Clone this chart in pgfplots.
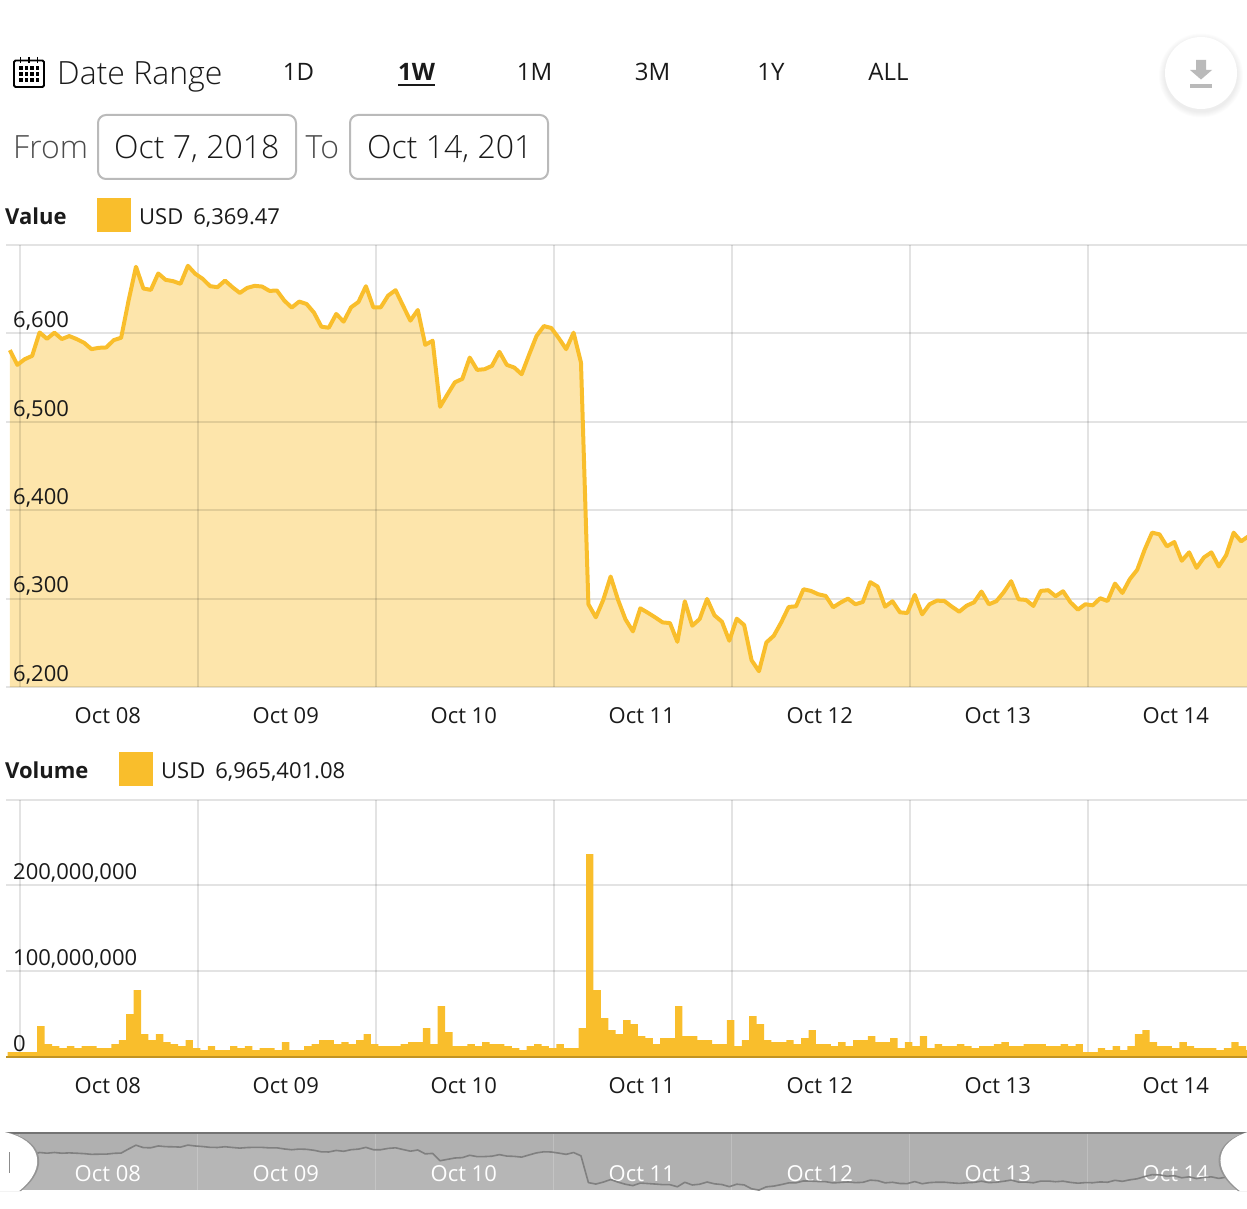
\documentclass[border=0pt]{standalone}
\usepackage{pgfplots}
\usepackage{pgfplotstable}
\pgfplotsset{compat=1.18}
\usepackage{fontspec}
\setmainfont{Open Sans}
\newfontfamily\lightfont{Open Sans Light}
\definecolor{gold}{HTML}{F9BE2C}
\definecolor{txt}{HTML}{1A1A1A}
\pgfplotstableread{
k v vol
0 6581.1 5.4
1 6564.4 5.4
2 6570.8 5.4
3 6574.6 5.4
4 6601.1 35.8
5 6593.9 14.8
6 6600.8 12.4
7 6593.6 10.1
8 6597 12.4
9 6593.6 10.1
10 6589.4 12.4
11 6582.2 12.4
12 6583.7 10.1
13 6584.1 10.1
14 6592.4 14.8
15 6595.1 19.5
16 6637.1 49.8
17 6675.4 77.8
18 6650.8 26.5
19 6649.2 19.5
20 6667.8 26.5
21 6660.6 17.1
22 6659.1 14.8
23 6656.1 12.4
24 6676.5 19.5
25 6667.4 10.1
26 6661.7 7.8
27 6653.4 12.4
28 6652.3 7.8
29 6659.8 7.8
30 6652.3 12.4
31 6645.8 10.1
32 6651.5 12.4
33 6653.8 7.8
34 6653 10.1
35 6648.1 10.1
36 6648.5 7.8
37 6637.1 17.1
38 6629.2 7.8
39 6636 7.8
40 6633.3 12.4
41 6623.5 14.8
42 6607.6 19.5
43 6606.4 19.5
44 6622 14.8
45 6613.3 17.1
46 6629.5 14.8
47 6635.6 19.5
48 6653.4 26.5
49 6629.5 14.8
50 6629.5 12.4
51 6642.8 12.4
52 6648.9 12.4
53 6631.4 14.8
54 6614.4 17.1
55 6626.5 17.1
56 6587.1 33.5
57 6591.7 14.8
58 6517 59.1
59 6531.1 28.8
60 6544.7 12.4
61 6548.5 12.4
62 6572.7 14.8
63 6558.7 12.4
64 6559.5 17.1
65 6563.3 14.8
66 6579.2 14.8
67 6564.4 12.4
68 6561.4 10.1
69 6553.8 7.8
70 6575.8 12.4
71 6597 14.8
72 6608.3 12.4
73 6606.1 10.1
74 6594.7 14.8
75 6582.2 10.1
76 6600.8 10.1
77 6567 33.5
78 6293.6 236.5
79 6278.8 77.8
80 6298.5 45.1
81 6325 31.1
82 6298.5 26.5
83 6276.5 42.8
84 6262.9 38.1
85 6289 24.1
86 6284.1 21.8
87 6278.8 14.8
88 6273.1 21.8
89 6272.3 21.8
90 6251.1 59.1
91 6297 24.1
92 6269.3 24.1
93 6276.9 19.5
94 6299.6 19.5
95 6281.1 14.8
96 6273.9 14.8
97 6252.3 42.8
98 6277.3 12.4
99 6270.1 19.5
100 6230.3 47.5
101 6217.8 38.1
102 6250.4 19.5
103 6258 17.1
104 6273.1 17.1
105 6290.5 19.5
106 6291.3 14.8
107 6310.6 21.8
108 6308.7 31.1
109 6304.9 14.8
110 6303 14.8
111 6290.2 12.4
112 6295.5 17.1
113 6300 12.4
114 6293.6 19.5
115 6296.2 19.5
116 6318.6 24.1
117 6313.6 17.1
118 6290.9 17.1
119 6297 21.8
120 6284.5 10.1
121 6283.7 17.1
122 6304.2 12.4
123 6282.2 24.1
124 6293.6 10.1
125 6297.7 14.8
126 6297.3 12.4
127 6290.9 12.4
128 6285.2 14.8
129 6292 12.4
130 6295.8 10.1
131 6308 12.4
132 6293.6 12.4
133 6297 14.8
134 6307.2 17.1
135 6319.7 12.4
136 6299.2 12.4
137 6298.5 14.8
138 6291.7 14.8
139 6308.7 14.8
140 6309.5 12.4
141 6302.7 12.4
142 6308.3 14.8
143 6295.8 12.4
144 6287.5 14.8
145 6293.6 5.4
146 6292.4 5.4
147 6300.4 10.1
148 6297.3 7.8
149 6317 12.4
150 6306.4 7.8
151 6322 12.4
152 6332.6 26.5
153 6355.3 31.1
154 6374.6 17.1
155 6372.7 12.4
156 6359.1 12.4
157 6364 10.1
158 6342.8 17.1
159 6352.3 12.4
160 6334.8 10.1
161 6346.6 10.1
162 6352.3 10.1
163 6336.4 7.8
164 6349.2 10.1
165 6374.6 17.1
166 6364.8 12.4
167 6370.5 7.8
}\datatable
\newcommand{\fs}[1]{\fontsize{#1}{#1}\selectfont}
\tikzset{
  gridv/.style={draw=black,opacity=0.11,line width=1.8pt},
  gridh/.style={draw=black,opacity=0.11,line width=2pt},
  ylab/.style={anchor=base west, inner sep=0pt, xshift=7pt, yshift=5.7pt, font=\fs{22}, text=txt},
}
\pgfplotsset{
  base/.style={
    scale only axis, width=1241pt,
    axis line style={draw=none},
    major tick length=0pt,
    /pgf/number format/assume math mode=true,
    tick label style={font=\fs{22}, text=txt},
    clip=false,
  },
}
\begin{document}
\begin{tikzpicture}[x=1pt,y=-1pt]
\path[use as bounding box] (0,0) rectangle (1247,1209);

% Value chart
\begin{axis}[base, at={(6pt,-687pt)}, anchor=south west, height=442pt,
  xmin=-0.526, xmax=166.8, ymin=6200, ymax=6700,
  xtick={13.2,37.2,61.2,85.2,109.2,133.2,157.2},
  xticklabels={Oct 08,Oct 09,Oct 10,Oct 11,Oct 12,Oct 13,Oct 14},
  xticklabel style={yshift=-17pt},
  ytick={6200,6300,6400,6500,6600,6700},
  yticklabels=\empty,
]
\addplot[draw=none, fill=gold, fill opacity=0.4] table[x=k,y=v] {\datatable} \closedcycle;
\pgfplotsinvokeforeach{1.36,25.36,49.36,73.36,97.36,121.36,145.36}{
  \addplot[gridv, no marks, forget plot] coordinates {(#1,6200) (#1,6700)};
}
\pgfplotsinvokeforeach{6200,6300,6400,6500,6600,6700}{
  \addplot[gridh, no marks, forget plot] coordinates {(-0.526,#1) (166.8,#1)};
}
\addplot[gold, line width=4pt, line join=round] table[x=k,y=v] {\datatable};
\node[ylab] at (axis cs:-0.526,6200) {6,200};
\node[ylab] at (axis cs:-0.526,6300) {6,300};
\node[ylab] at (axis cs:-0.526,6400) {6,400};
\node[ylab] at (axis cs:-0.526,6500) {6,500};
\node[ylab] at (axis cs:-0.526,6600) {6,600};
\end{axis}

% Volume chart
\begin{axis}[base, at={(6pt,-1056.7pt)}, anchor=south west, height=257pt,
  xmin=-0.706, xmax=166.62, ymin=0, ymax=300,
  xtick={13.02,37.02,61.02,85.02,109.02,133.02,157.02},
  xticklabels={Oct 08,Oct 09,Oct 10,Oct 11,Oct 12,Oct 13,Oct 14},
  xticklabel style={yshift=-17pt},
  ytick={0,100,200,300},
  yticklabels=\empty,
]
\pgfplotsinvokeforeach{1.18,25.18,49.18,73.18,97.18,121.18,145.18}{
  \addplot[gridv, no marks, forget plot] coordinates {(#1,0) (#1,300)};
}
\pgfplotsinvokeforeach{100,200,300}{
  \addplot[gridh, no marks, forget plot] coordinates {(-0.706,#1) (166.62,#1)};
}
\addplot[ybar, bar width=7.42pt, bar shift=0pt, fill=gold, draw=none] table[x=k,y=vol] {\datatable};
\node[ylab] at (axis cs:-0.706,0) {0};
\node[ylab] at (axis cs:-0.706,100) {100,000,000};
\node[ylab] at (axis cs:-0.706,200) {200,000,000};
\end{axis}

% Navigator
\begin{axis}[base, at={(6pt,-1190pt)}, anchor=south west, height=57pt, clip=true,
  xmin=-0.526, xmax=166.8, ymin=6218, ymax=6800,
  axis background/.style={fill=black!31},
  xtick={13.2,37.2,61.2,85.2,109.2,133.2,157.2},
  xticklabels={Oct 08,Oct 09,Oct 10,Oct 11,Oct 12,Oct 13,Oct 14},
  xticklabel style={text=white, yshift=28pt},
  extra x ticks={1.36,25.36,49.36,73.36,97.36,121.36,145.36},
  extra x tick labels={},
  extra x tick style={grid=major, major grid style={draw=white,opacity=0.2,line width=1pt}},
  ytick=\empty,
]
\addplot[draw=none, fill=white, fill opacity=0.08] table[x=k,y=v] {\datatable} \closedcycle;
\addplot[black!50, line width=1.6pt, line join=round] table[x=k,y=v] {\datatable};
\end{axis}

\draw[draw=gold!78!black, line width=2.4pt] (6,1056.7) -- (1247,1056.7);
\draw[black!55, line width=1.5pt] (6,1133) -- (1247,1133);
% navigator handles
\fill[black!42] (6,1132) .. controls (44,1140) and (50,1168) .. (21,1191) -- (0,1191) -- (0,1132) -- cycle;
\fill[white] (4,1132) .. controls (42,1140) and (48,1168) .. (19,1191) -- (0,1191) -- (0,1132) -- cycle;
\fill[black!42] (1247,1132) .. controls (1214,1142) and (1208,1168) .. (1238,1191) -- (1248,1191) -- (1248,1132) -- cycle;
\fill[white] (1248,1132) .. controls (1216,1142) and (1210,1168) .. (1240,1191) -- (1248,1191) -- cycle;
\draw[black!45, line width=1pt] (9.5,1152) -- (9.5,1173);

% top controls
\draw[black, line width=1.8pt, rounded corners=1.5pt] (14,60.5) rectangle (44,87);
\foreach \x in {20.5,29,37.5} \draw[black, line width=1.6pt] (\x,57) -- (\x,63);
\foreach \x in {21,26.5,32,37.5} \foreach \y in {68,74,80} \fill[black] (\x-1.6,\y-1.6) rectangle (\x+1.6,\y+1.6);
\node[anchor=base west, inner sep=0, text=txt] at (57,85) {\lightfont\fs{32}Date Range};
\foreach \x/\t in {298.5/1D,534.5/1M,652.5/3M,771/1Y,888.5/ALL}
  \node[anchor=base, inner sep=0, text=txt] at (\x,81) {\fs{24}\t};
\node[anchor=base, inner sep=0, text=txt] at (416.5,81) {\fs{24}\bfseries 1W};
\draw[txt, line width=2pt] (398,85) -- (435,85);
\node[anchor=base west, inner sep=0, text=black!70] at (13,159) {\lightfont\fs{32}From};
\draw[black!27, line width=2pt, rounded corners=8pt] (98,115) rectangle (296,179);
\node[anchor=base west, inner sep=0, text=txt] at (114,159) {\lightfont\fs{32}Oct 7, 2018};
\node[anchor=base west, inner sep=0, text=black!70] at (305.5,159) {\lightfont\fs{32}To};
\draw[black!27, line width=2pt, rounded corners=8pt] (350,115) rectangle (548,179);
\node[anchor=base west, inner sep=0, text=txt] at (367,159) {\lightfont\fs{32}Oct 14, 201};

% legends
\node[anchor=base west, inner sep=0, text=txt] at (5,224) {\fs{22}\bfseries Value};
\fill[gold] (97,198) rectangle (131,232);
\node[anchor=base west, inner sep=0, text=txt] at (139,224) {\fs{22}USD\hspace{10pt}6,369.47};
\node[anchor=base west, inner sep=0, text=txt] at (5,778) {\fs{22}\bfseries Volume};
\fill[gold] (119,752) rectangle (153,786);
\node[anchor=base west, inner sep=0, text=txt] at (161,778) {\fs{22}USD\hspace{10pt}6,965,401.08};

% download button
\foreach \r in {42,41,40,39,38,37} \fill[black, opacity=0.012] (1201,75.5) circle (\r);
\fill[white] (1201,73) circle (36);
\fill[black!27] (1196,60) -- (1206,60) -- (1206,70) -- (1212,70) -- (1201,79.5) -- (1190,70) -- (1196,70) -- cycle;
\fill[black!27] (1190,84) rectangle (1212,88);
\end{tikzpicture}
\end{document}
